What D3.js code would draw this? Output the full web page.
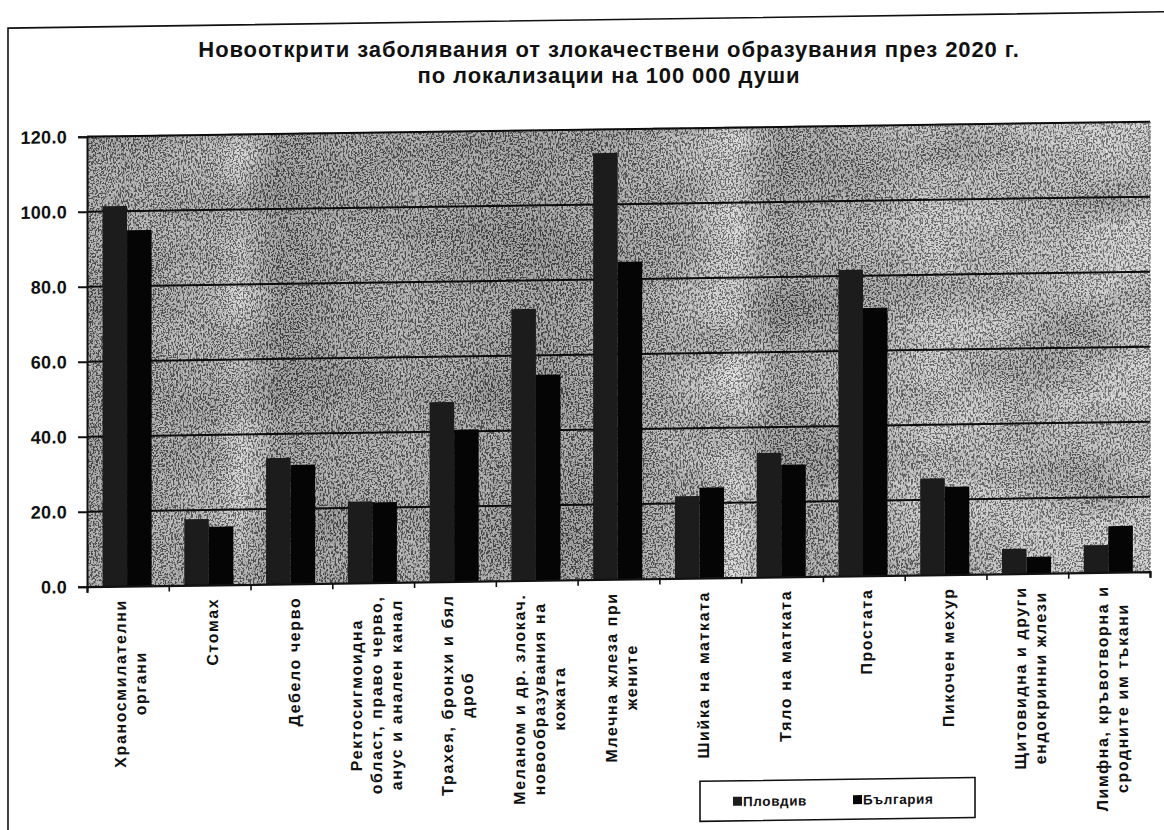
<!DOCTYPE html>
<html>
<head>
<meta charset="utf-8">
<script src="https://cdn.jsdelivr.net/npm/d3@7"></script>
<style>
  body { margin: 0; background: #fff; }
  svg { display: block; }
  text { font-family: "Liberation Sans", Arial, sans-serif; font-weight: bold; fill: #111; }
</style>
</head>
<body>
<svg id="chart" width="1164" height="830"></svg>
<script>
// Newly registered malignant neoplasms, 2020, per 100 000 population
const titleLines = [
  "Новооткрити заболявания от злокачествени образувания през 2020 г.",
  "по локализации на 100 000 души"
];
const categoryLines = [
  ["Храносмилателни", "органи"],
  ["Стомах"],
  ["Дебело черво"],
  ["Ректосигмоидна", "област, право черво,", "анус и анален канал"],
  ["Трахея, бронхи и бял", "дроб"],
  ["Меланом и др. злокач.", "новообразувания на", "кожата"],
  ["Млечна жлеза при", "жените"],
  ["Шийка на матката"],
  ["Тяло на матката"],
  ["Простата"],
  ["Пикочен мехур"],
  ["Щитовидна и други", "ендокринни жлези"],
  ["Лимфна, кръвотворна и", "сродните им тъкани"]
];
const seriesNames = ["Пловдив", "България"];
const plovdiv  = [101.4, 17.6, 33.6, 21.7, 47.9, 72.4, 113.7, 21.9, 33.1, 81.6, 25.7, 6.6, 7.3];
const bulgaria = [94.9, 15.5, 31.7, 21.4, 40.5, 54.8, 84.6, 24.1, 29.9, 71.4, 23.4, 4.4, 12.3];
const yTicks = [0, 20, 40, 60, 80, 100, 120];
const seriesColors = ["#1c1c1c", "#050505"];

const svg = d3.select("#chart");
const defs = svg.append("defs");

// plot geometry
const plotLeft = 87, plotRight = 1150, plotBase = 586.7, plotTop = plotBase - 450;

// scanned-paper look of the plot background
const grad = defs.append("linearGradient").attr("id", "bgGrad")
  .attr("gradientUnits", "userSpaceOnUse")
  .attr("x1", plotLeft).attr("x2", plotRight).attr("y1", 0).attr("y2", 0);
[[0, "#8a8a8a"], [0.12, "#9a9a9a"], [0.145, "#c4c4c4"], [0.18, "#808080"], [0.30, "#8e8e8e"],
 [0.42, "#7a7a7a"], [0.52, "#8c8c8c"], [0.575, "#aaaaaa"], [0.61, "#d4d4d4"], [0.65, "#888888"],
 [0.74, "#9c9c9c"], [0.80, "#bababa"], [0.90, "#b4b4b4"], [1, "#c4c4c4"]]
  .forEach(([o, c]) => grad.append("stop").attr("offset", o).attr("stop-color", c));

const grain = defs.append("filter").attr("id", "grain")
  .attr("x", 0).attr("y", 0).attr("width", "100%").attr("height", "100%");
grain.append("feTurbulence").attr("type", "fractalNoise").attr("baseFrequency", 0.6)
  .attr("numOctaves", 2).attr("seed", 4);
grain.append("feColorMatrix").attr("type", "matrix")
  .attr("values", "8 0 0 0 -3.5  8 0 0 0 -3.5  8 0 0 0 -3.5  0 0 0 0 0.4");

const cloud = defs.append("filter").attr("id", "cloud")
  .attr("x", 0).attr("y", 0).attr("width", "100%").attr("height", "100%");
cloud.append("feTurbulence").attr("type", "fractalNoise").attr("baseFrequency", "0.006 0.014")
  .attr("numOctaves", 3).attr("seed", 11);
cloud.append("feColorMatrix").attr("type", "matrix")
  .attr("values", "0 0 0 0 0.08  0 0 0 0 0.08  0 0 0 0 0.08  2.2 0 0 0 -0.85");

// the whole sheet is slightly sheared: the right side sits higher than the left
const g = svg.append("g")
  .attr("transform", `translate(${plotLeft},${plotBase}) skewY(-0.81) translate(${-plotLeft},${-plotBase})`);

g.append("rect").attr("x", 8).attr("y", 27).attr("width", 1250).attr("height", 860)
  .attr("fill", "#fff").attr("stroke", "#111").attr("stroke-width", 1.6);

// title (kept level)
svg.selectAll("text.title").data(titleLines).join("text")
  .attr("class", "title")
  .attr("x", 609).attr("y", (d, i) => i === 0 ? 56.5 : 82.5)
  .attr("text-anchor", "middle").style("font-size", "22px").style("letter-spacing", "0.9px")
  .text(d => d);

const x = d3.scaleBand().domain(d3.range(categoryLines.length)).range([plotLeft, plotRight]).padding(0);
const xs = d3.scaleBand().domain(seriesNames).range([0, x.step() * 0.6]);
const groupOffset = x.step() * 0.19;
const y = d3.scaleLinear().domain([0, 120]).range([plotBase, plotTop]);

// background
g.append("rect").attr("x", plotLeft).attr("y", plotTop).attr("width", plotRight - plotLeft).attr("height", plotBase - plotTop)
  .attr("fill", "url(#bgGrad)");
g.append("rect").attr("x", plotLeft).attr("y", plotTop).attr("width", plotRight - plotLeft).attr("height", plotBase - plotTop)
  .attr("filter", "url(#cloud)").attr("opacity", 0.6);
g.append("rect").attr("x", plotLeft).attr("y", plotTop).attr("width", plotRight - plotLeft).attr("height", plotBase - plotTop)
  .attr("filter", "url(#grain)");

// gridlines
g.append("g").selectAll("line").data(yTicks.filter(d => d > 0)).join("line")
  .attr("x1", plotLeft).attr("x2", plotRight).attr("y1", d => y(d)).attr("y2", d => y(d))
  .attr("stroke", "#0c0c0c").attr("stroke-width", 2);
g.append("line").attr("x1", plotRight).attr("x2", plotRight).attr("y1", plotTop).attr("y2", plotBase)
  .attr("stroke", "#555").attr("stroke-width", 1).attr("stroke-dasharray", "2,2");

// bars
const seriesData = [plovdiv, bulgaria];
seriesNames.forEach((name, si) => {
  g.append("g").selectAll("rect").data(seriesData[si]).join("rect")
    .attr("x", (d, i) => x(i) + groupOffset + xs(name))
    .attr("width", xs.bandwidth())
    .attr("y", d => y(d))
    .attr("height", d => plotBase - y(d))
    .attr("fill", seriesColors[si]);
});

// y axis
const yAxis = g.append("g").attr("transform", `translate(${plotLeft},0)`)
  .call(d3.axisLeft(y).tickValues(yTicks).tickSize(9).tickPadding(11).tickFormat(d3.format(".1f")));
yAxis.select(".domain").attr("stroke", "#111").attr("stroke-width", 2);
yAxis.selectAll(".tick line").attr("stroke", "#111").attr("stroke-width", 2);
yAxis.selectAll(".tick text").style("font-size", "18px").style("letter-spacing", "0.3px")
  .attr("font-family", null).attr("fill", "#111");

// x axis with ticks between categories
const xb = d3.scaleLinear().domain([0, categoryLines.length]).range([plotLeft, plotRight]);
const xAxis = g.append("g").attr("transform", `translate(0,${plotBase})`)
  .call(d3.axisBottom(xb).tickValues(d3.range(categoryLines.length + 1)).tickSize(6).tickFormat(""));
xAxis.select(".domain").attr("stroke", "#111").attr("stroke-width", 2.2);
xAxis.selectAll(".tick line").attr("stroke", "#111").attr("stroke-width", 1.6);

// category labels, rotated, centred lines, anchored just under the axis
const labelTop = plotBase + 13;
const lineGap = 20;
categoryLines.forEach((lines, ci) => {
  const lg = g.append("g")
    .attr("transform", `translate(${x(ci) + x.bandwidth() / 2},${labelTop}) rotate(-90)`);
  const texts = lg.selectAll("text").data(lines).join("text")
    .style("font-size", "16px").style("letter-spacing", "1.6px")
    .attr("text-anchor", "middle")
    .attr("y", (d, i) => (i - (lines.length - 1) / 2) * lineGap + 8.5)
    .text(d => d);
  let maxLen = 0;
  texts.each(function () { maxLen = Math.max(maxLen, this.getBBox().width); });
  texts.attr("x", -maxLen / 2);
});

// legend
const lgd = g.append("g");
lgd.append("rect").attr("x", 700).attr("y", 790).attr("width", 275).attr("height", 40)
  .attr("fill", "#fff").attr("stroke", "#111").attr("stroke-width", 1.6);
const legendX = [733, 853];
seriesNames.forEach((name, si) => {
  lgd.append("rect").attr("x", legendX[si]).attr("y", 806).attr("width", 9).attr("height", 9)
    .attr("fill", seriesColors[si]);
  lgd.append("text").attr("x", legendX[si] + 10).attr("y", 815.5)
    .style("font-size", "13.5px").style("letter-spacing", "0.6px").text(name);
});
</script>
</body>
</html>
